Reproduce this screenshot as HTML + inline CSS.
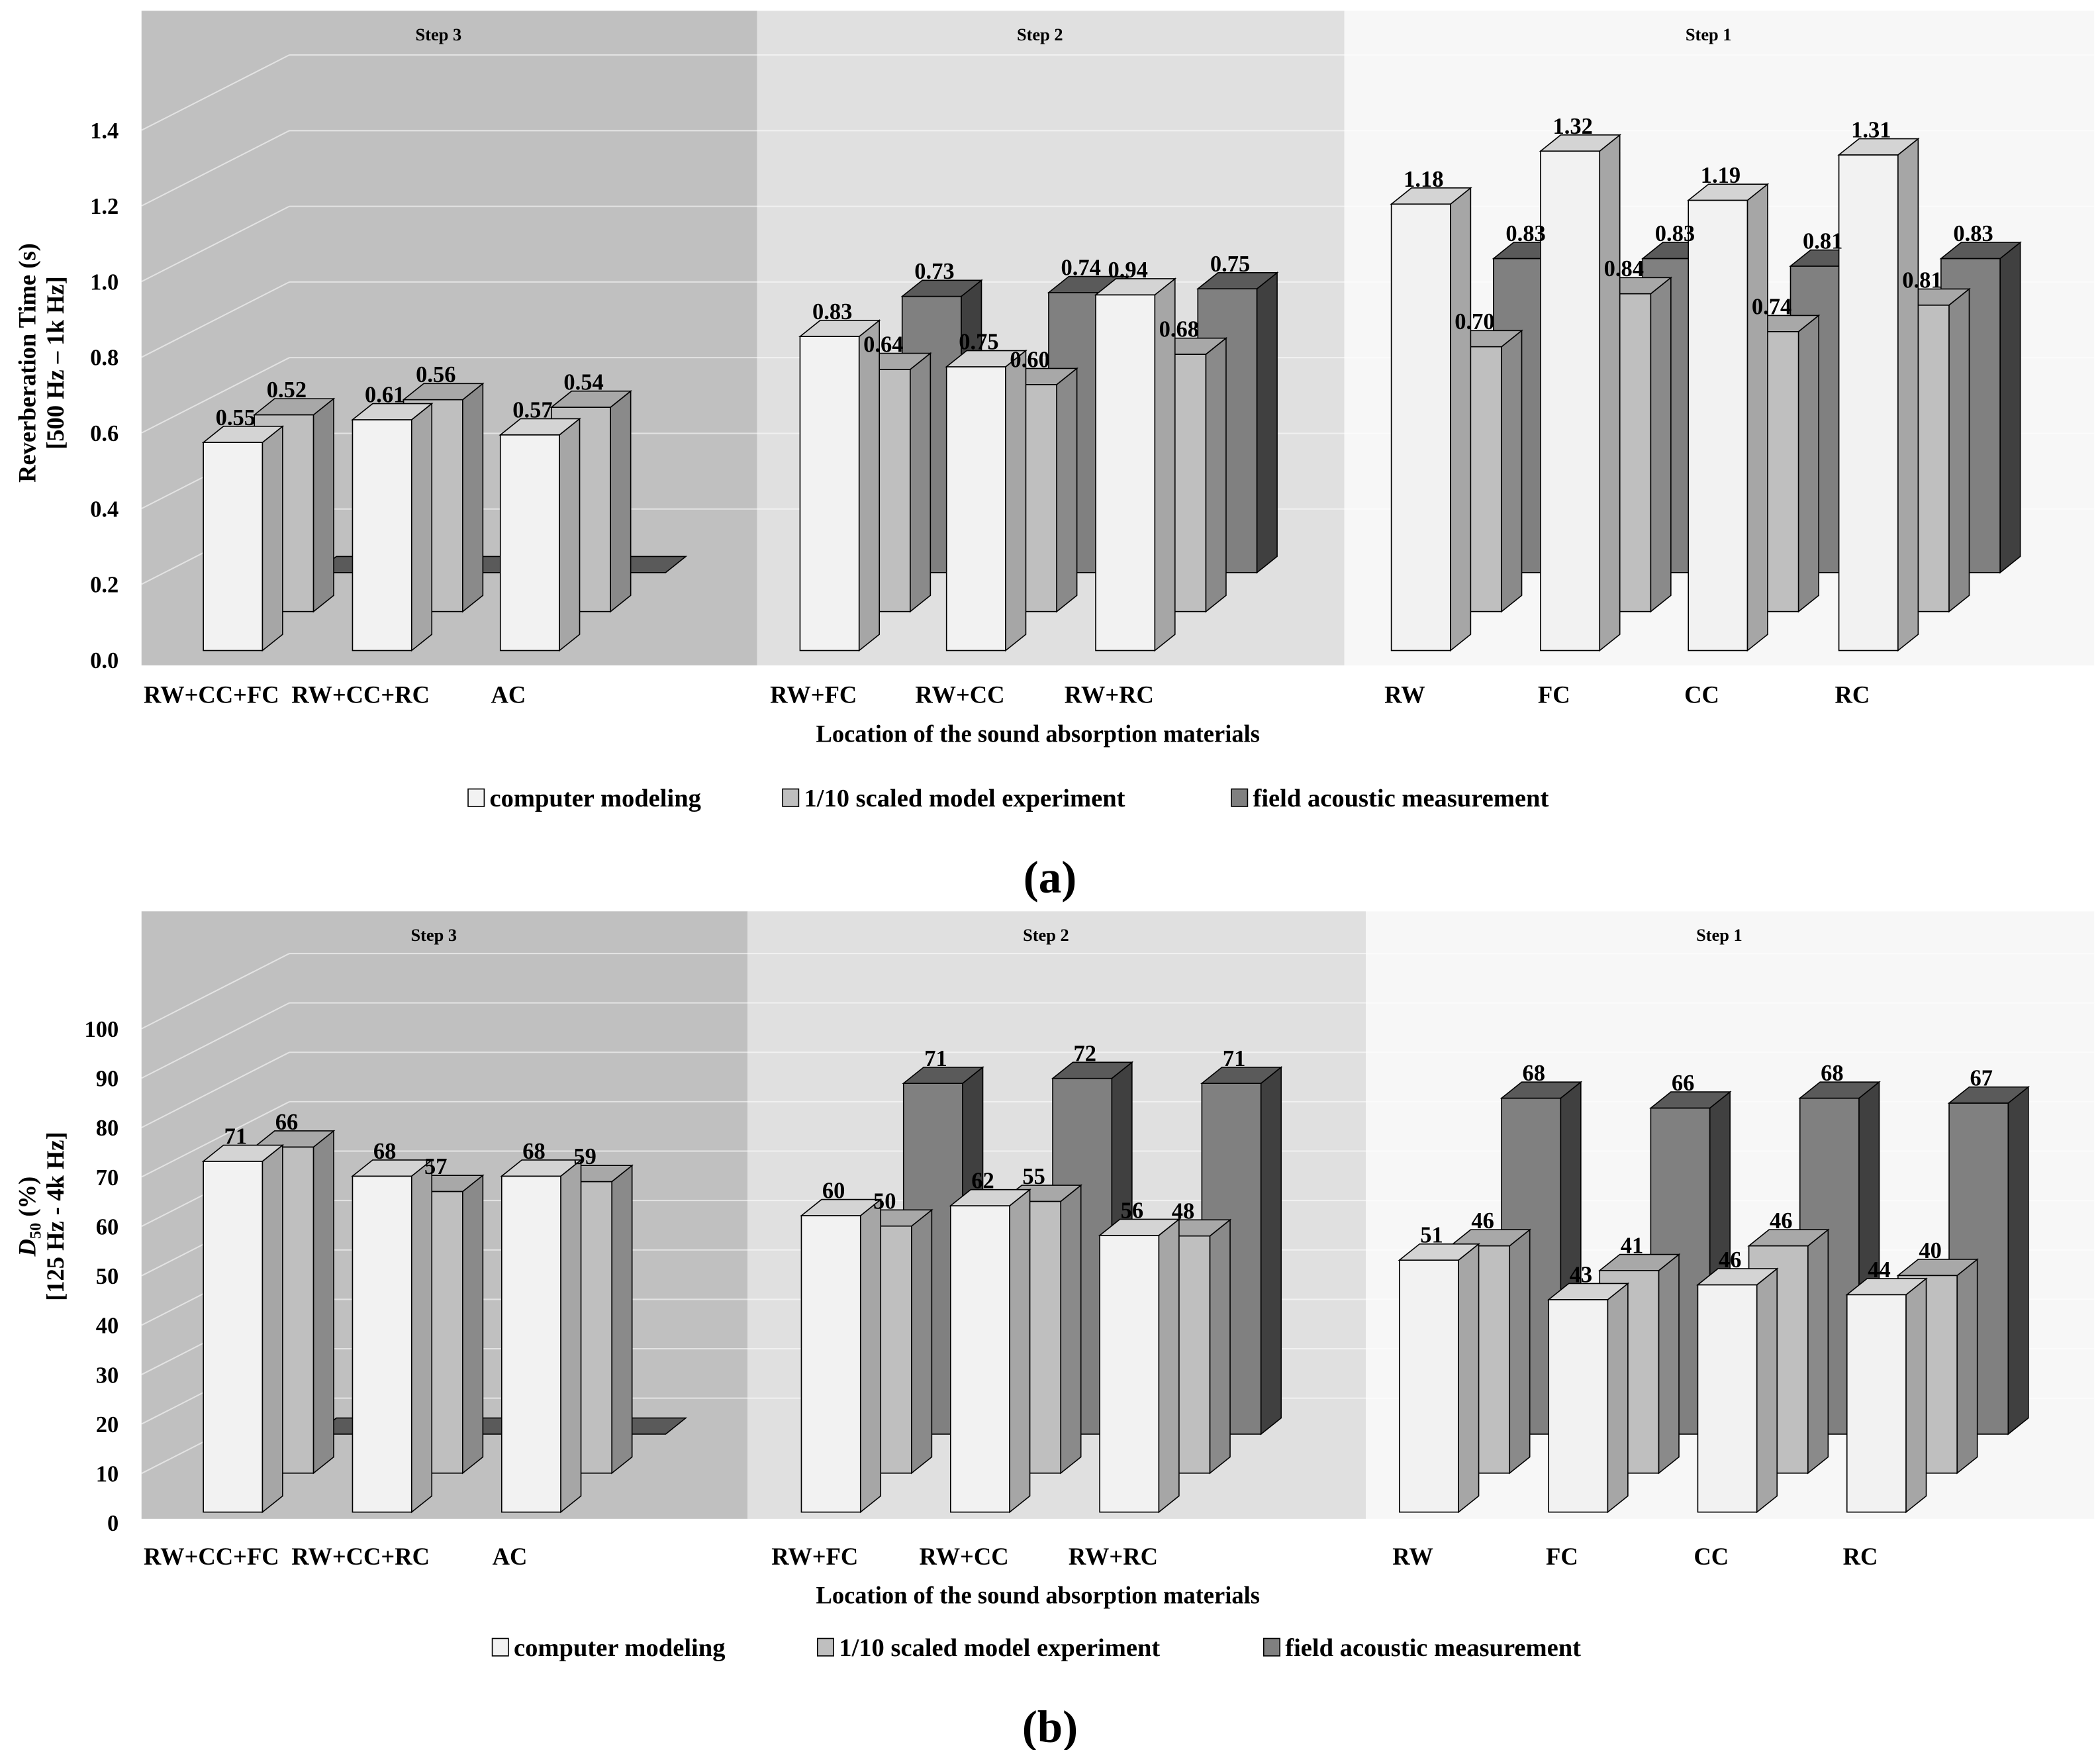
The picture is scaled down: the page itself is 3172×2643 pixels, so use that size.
<!DOCTYPE html>
<html><head><meta charset="utf-8"><style>
html,body{margin:0;padding:0;background:#fff;}
svg{display:block;font-family:"Liberation Serif",serif;}
</style></head><body>
<svg id="fig" xmlns="http://www.w3.org/2000/svg" width="3172" height="2643" viewBox="0 0 1562 1302"></svg>
<script>
// ---- data ----
const categories = ["RW+CC+FC","RW+CC+RC","AC","RW+FC","RW+CC","RW+RC","RW","FC","CC","RC"];
const rtModel = [0.55,0.61,0.57,0.83,0.75,0.94,1.18,1.32,1.19,1.31];
const rtScaled = [0.52,0.56,0.54,0.64,0.60,0.68,0.70,0.84,0.74,0.81];
const rtField = [null,null,null,0.73,0.74,0.75,0.83,0.83,0.81,0.83];
const d50Model = [71,68,68,60,62,56,51,43,46,44];
const d50Scaled = [66,57,59,50,55,48,46,41,46,40];
const d50Field = [null,null,null,71,72,71,68,66,68,67];
const rtTicks = ["0.0","0.2","0.4","0.6","0.8","1.0","1.2","1.4"];
const rtTickVals = [0,0.2,0.4,0.6,0.8,1.0,1.2,1.4];
const d50Ticks = ["0","10","20","30","40","50","60","70","80","90","100"];
const d50TickVals = [0,10,20,30,40,50,60,70,80,90,100];
const seriesNames = ["computer modeling","1/10 scaled model experiment","field acoustic measurement"];

const NS="http://www.w3.org/2000/svg";
const svg=document.getElementById('fig');
function mk(tag,attrs,name,parent,text){
  const el=document.createElementNS(NS,tag);
  for(const k in attrs) el.setAttribute(k,attrs[k]);
  
  
  if(text!==undefined) el.textContent=text;
  (parent||svg).appendChild(el);
  return el;
}
const colors=[
  {f:"#f2f2f2",s:"#a6a6a6",t:"#d4d4d4"},
  {f:"#bfbfbf",s:"#8a8a8a",t:"#a8a8a8"},
  {f:"#808080",s:"#404040",t:"#5a5a5a"}];

function chart(cfg){
  const g=mk('g',{},cfg.name);
  cfg.panels.forEach((p,i)=>{
    mk('rect',{x:p[0],y:cfg.top,width:p[1]-p[0],height:cfg.bottom-cfg.top,fill:p[2]},'panel-step-'+(3-i),g);
    mk('text',{x:(p[0]+p[1])/2-8,y:cfg.top+22,'font-size':13,'font-weight':'bold','text-anchor':'middle'},'step-label-'+(3-i),g,'Step '+(3-i));
  });
  const y0=cfg.axisZero, sc=cfg.scale;
  const yAx=v=>y0-v*sc;
  cfg.tickVals.forEach((v,i)=>{
    const ty=yAx(v);
    if(v>0){
      mk('line',{x1:105,y1:ty,x2:215,y2:ty-56,stroke:'#ffffff','stroke-opacity':0.55,'stroke-width':1},'gridline-diag',g);
      mk('line',{x1:215,y1:ty-56,x2:1558,y2:ty-56,stroke:'#ffffff','stroke-opacity':0.55,'stroke-width':1},'gridline',g);
    }
    mk('text',{x:88,y:ty+6,'font-size':17,'font-weight':'bold','text-anchor':'end'},'y-tick-label',g,cfg.ticks[i]);
  });
  const w=44,dx=15,dy=12,offX=38,offY=29;
  const slabY=cfg.base-2*offY;
  mk('polygon',{points:`${235},${slabY} ${495},${slabY} ${510},${slabY-dy} ${250},${slabY-dy}`,fill:colors[2].t,stroke:'#000','stroke-width':0.8},'field-slab-step-3',g);
  const series=[cfg.s1,cfg.s2,cfg.s3];
  const labels=[];
  [2,1,0].forEach(si=>{
    const vals=series[si];
    vals.forEach((v,i)=>{
      if(v===null) return;
      const x=cfg.xs[i]+si*offX, base=cfg.base-si*offY;
      const top=base-v*sc, c=colors[si];
      const bg=mk('g',{},'bar-'+['model','scaled','field'][si]+'-'+categories[i],g);
      mk('rect',{x:x,y:top,width:w,height:base-top,fill:c.f,stroke:'#000','stroke-width':0.8},'bar-front',bg);
      mk('polygon',{points:`${x+w},${top} ${x+w+dx},${top-dy} ${x+w+dx},${base-dy} ${x+w},${base}`,fill:c.s,stroke:'#000','stroke-width':0.8},'bar-side',bg);
      mk('polygon',{points:`${x},${top} ${x+dx},${top-dy} ${x+w+dx},${top-dy} ${x+w},${top}`,fill:c.t,stroke:'#000','stroke-width':0.8},'bar-top',bg);
      labels.push([x+w/2+2,top-13,cfg.fmt(v)]);
    });
  });
  labels.forEach(l=>{
    mk('text',{x:l[0],y:l[1],'font-size':17,'font-weight':'bold','text-anchor':'middle'},'value-label',g,l[2]);
  });
  categories.forEach((c,i)=>{
    mk('text',{x:cfg.xs[i]+(i<3?6:10),y:cfg.catY,'font-size':18,'font-weight':'bold','text-anchor':'middle'},'x-tick-label',g,c);
  });
  mk('text',{x:772,y:cfg.catY+29,'font-size':18,'font-weight':'bold','text-anchor':'middle'},'x-axis-title',g,'Location of the sound absorption materials');
  const lx=cfg.legendX;
  seriesNames.forEach((n,i)=>{
    mk('rect',{x:lx[i],y:cfg.legendY-13,width:12,height:13,fill:colors[i].f,stroke:'#000','stroke-width':0.8},'legend-swatch',g);
    mk('text',{x:lx[i]+16,y:cfg.legendY,'font-size':19,'font-weight':'bold'},'legend-entry',g,n);
  });
  mk('text',{x:781,y:cfg.legendY+64,'font-size':34,'font-weight':'bold','text-anchor':'middle'},'panel-letter',g,cfg.letter);
  return g;
}

const ga=chart({name:'chart-a-reverberation',top:8,bottom:495,
  panels:[[105,563,'#c0c0c0'],[563,1000,'#e0e0e0'],[1000,1558,'#f7f7f7']],
  axisZero:491,scale:281.5,base:484,tickVals:rtTickVals,ticks:rtTicks,
  xs:[151,262,372,595,704,815,1035,1146,1256,1368],
  s1:rtModel,s2:rtScaled,s3:rtField,fmt:v=>v.toFixed(2),
  catY:523,legendY:600,legendX:[348,582,916],letter:'(a)'});
mk('text',{transform:'translate(26,270) rotate(-90)','font-size':18,'font-weight':'bold','text-anchor':'middle'},'y-axis-title',ga,'Reverberation Time (s)');
mk('text',{transform:'translate(47,270) rotate(-90)','font-size':18,'font-weight':'bold','text-anchor':'middle'},'y-axis-subtitle',ga,'[500 Hz – 1k Hz]');

const gb=chart({name:'chart-b-d50',top:678,bottom:1130,
  panels:[[105,556,'#c0c0c0'],[556,1016,'#e0e0e0'],[1016,1558,'#f7f7f7']],
  axisZero:1133,scale:3.676,base:1125,tickVals:d50TickVals,ticks:d50Ticks,
  xs:[151,262,373,596,707,818,1041,1152,1263,1374],
  s1:d50Model,s2:d50Scaled,s3:d50Field,fmt:v=>String(v),
  catY:1164,legendY:1232,legendX:[366,608,940],letter:'(b)'});
const yt=mk('text',{transform:'translate(26,905) rotate(-90)','font-size':18,'font-weight':'bold','text-anchor':'middle'},'y-axis-title',gb);
const t1=document.createElementNS(NS,'tspan');t1.setAttribute('font-style','italic');t1.textContent='D';yt.appendChild(t1);
const t2=document.createElementNS(NS,'tspan');t2.setAttribute('font-size','12');t2.setAttribute('dy','4');t2.textContent='50';yt.appendChild(t2);
const t3=document.createElementNS(NS,'tspan');t3.setAttribute('dy','-4');t3.textContent=' (%)';yt.appendChild(t3);
mk('text',{transform:'translate(47,905) rotate(-90)','font-size':18,'font-weight':'bold','text-anchor':'middle'},'y-axis-subtitle',gb,'[125 Hz - 4k Hz]');
</script>
</body></html>
